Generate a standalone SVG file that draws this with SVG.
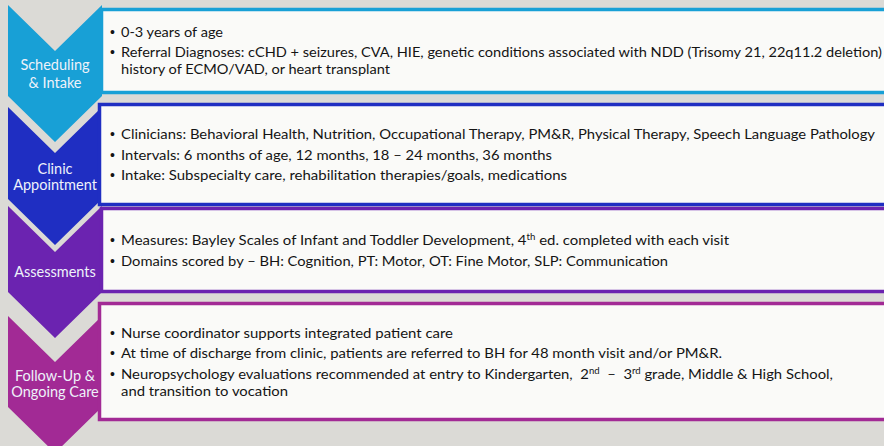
<svg xmlns="http://www.w3.org/2000/svg" width="884" height="446" viewBox="0 0 884 446">
<style>
.bg{fill:#DBDAD6}
.box{fill:#FAFAF8;stroke-width:3.5}
.lbl{font-family:Lato,"Liberation Sans",sans-serif;font-size:14.5px;fill:#EEF2FA;text-anchor:middle}
.t{font-family:Lato,"Liberation Sans",sans-serif;font-size:14px;fill:#141414}
.b{font-family:"Liberation Sans",sans-serif;font-size:14px;fill:#141414}
.sup{font-size:9px}
</style>
<rect class="bg" x="0" y="0" width="884" height="446"/>
<g id="connectors"></g>
<g id="stage1">
<polygon points="8,5 55,51 102,5 102,96 55,142 8,96" fill="#18A0D6"/>
<rect class="box" x="101.5" y="9.5" width="800" height="83" stroke="#18A0D6"/>
<text class="lbl" x="55" y="70">Scheduling</text>
<text class="lbl" x="55" y="88">&amp; Intake</text>
<text class="b" x="110" y="37">•</text>
<text class="t" x="121" y="37" textLength="102" lengthAdjust="spacingAndGlyphs">0-3 years of age</text>
<text class="b" x="110" y="57">•</text>
<text class="t" x="121" y="57" textLength="761" lengthAdjust="spacingAndGlyphs">Referral Diagnoses: cCHD + seizures, CVA, HIE, genetic conditions associated with NDD (Trisomy 21, 22q11.2 deletion)</text>
<text class="t" x="121" y="74" textLength="269" lengthAdjust="spacingAndGlyphs">history of ECMO/VAD, or heart transplant</text>
</g>
<g id="stage2">
<polygon points="8,107 55,153 102,107 102,199 55,245 8,199" fill="#1F2EC2"/>
<rect class="box" x="99.5" y="104.5" width="800" height="100" stroke="#1F2EC2"/>
<text class="lbl" x="55" y="174">Clinic</text>
<text class="lbl" x="55" y="190">Appointment</text>
<text class="b" x="110" y="139">•</text>
<text class="t" x="121" y="139" textLength="754" lengthAdjust="spacingAndGlyphs">Clinicians: Behavioral Health, Nutrition, Occupational Therapy, PM&amp;R, Physical Therapy, Speech Language Pathology</text>
<text class="b" x="110" y="160">•</text>
<text class="t" x="121" y="160" textLength="431" lengthAdjust="spacingAndGlyphs">Intervals: 6 months of age, 12 months, 18 – 24 months, 36 months</text>
<text class="b" x="110" y="180">•</text>
<text class="t" x="121" y="180" textLength="446" lengthAdjust="spacingAndGlyphs">Intake: Subspecialty care, rehabilitation therapies/goals, medications</text>
</g>
<g id="stage3">
<polygon points="8,206 55,252 102,206 102,292 55,338 8,292" fill="#6B23B0"/>
<rect class="box" x="101.5" y="208.5" width="800" height="83" stroke="#6B23B0"/>
<text class="lbl" x="55" y="277">Assessments</text>
<text class="b" x="110" y="245">•</text>
<text class="t" x="121" y="245" textLength="608" lengthAdjust="spacingAndGlyphs">Measures: Bayley Scales of Infant and Toddler Development, 4<tspan class="sup" dy="-5">th</tspan><tspan dy="5"> ed. completed with each visit</tspan></text>
<text class="b" x="110" y="266">•</text>
<text class="t" x="121" y="266" textLength="547" lengthAdjust="spacingAndGlyphs">Domains scored by – BH: Cognition, PT: Motor, OT: Fine Motor, SLP: Communication</text>
</g>
<g id="stage4">
<polygon points="8,316 55,362 102,316 102,407 55,453 8,407" fill="#A22A95"/>
<rect class="box" x="99.5" y="303.5" width="800" height="116" stroke="#A22A95"/>
<text class="lbl" x="55" y="381">Follow-Up &amp;</text>
<text class="lbl" x="55" y="397">Ongoing Care</text>
<text class="b" x="110" y="338">•</text>
<text class="t" x="121" y="338" textLength="332" lengthAdjust="spacingAndGlyphs">Nurse coordinator supports integrated patient care</text>
<text class="b" x="110" y="358">•</text>
<text class="t" x="121" y="358" textLength="601" lengthAdjust="spacingAndGlyphs">At time of discharge from clinic, patients are referred to BH for 48 month visit and/or PM&amp;R.</text>
<text class="b" x="110" y="379">•</text>
<text class="t" x="121" y="379" xml:space="preserve" textLength="712" lengthAdjust="spacingAndGlyphs">Neuropsychology evaluations recommended at entry to Kindergarten,  2<tspan class="sup" dy="-5">nd</tspan><tspan dy="5">  –  3</tspan><tspan class="sup" dy="-5">rd</tspan><tspan dy="5"> grade, Middle &amp; High School,</tspan></text>
<text class="t" x="121" y="396" textLength="167" lengthAdjust="spacingAndGlyphs">and transition to vocation</text>
</g>
</svg>
